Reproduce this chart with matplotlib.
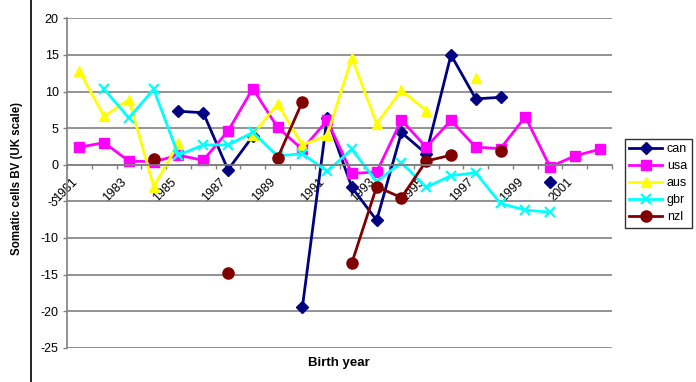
import numpy as np
import matplotlib
matplotlib.use("Agg")
import matplotlib.pyplot as plt
import matplotlib.transforms as mtransforms
from matplotlib.lines import Line2D

plt.rcParams["font.family"] = ["Liberation Sans", "DejaVu Sans"]
plt.rcParams["axes.unicode_minus"] = False

nan = np.nan

years = list(range(1981, 2003))
tick_years = [str(y) for y in range(1981, 2003, 2)]

can = [nan, nan, nan, nan, 7.3, 7.1, -0.7, 3.9, nan, -19.5, 6.4,
       -3.1, -7.6, 4.4, 1.5, 15.0, 9.0, 9.2, nan, -2.3, nan, nan]
usa = [2.4, 3.0, 0.5, 0.4, 1.3, 0.6, 4.6, 10.4, 5.1, 2.1, 6.05,
       -1.2, -1.0, 6.1, 2.4, 6.05, 2.4, 2.2, 6.55, -0.3, 1.2, 2.1]
aus = [12.8, 6.6, 8.9, -3.0, 2.9, nan, nan, 4.1, 8.3, 2.7, 4.0,
       14.6, 5.6, 10.15, 7.4, nan, 11.8, nan, nan, nan, nan, nan]
gbr = [nan, 10.3, 6.4, 10.3, 1.3, 2.7, 2.7, 4.4, 1.2, 1.5, -0.9,
       2.1, -2.3, 0.3, -3.1, -1.5, -1.1, -5.3, -6.2, -6.5, nan, nan]
nzl = [nan, nan, nan, 0.8, nan, nan, -14.8, nan, 0.9, 8.6, nan,
       -13.4, -3.0, -4.5, 0.5, 1.3, nan, 1.9, nan, nan, nan, nan]

series = [
    ("can", can, "#000080", "D", 6),
    ("usa", usa, "#FF00FF", "s", 6.5),
    ("aus", aus, "#FFFF00", "^", 7.5),
    ("gbr", gbr, "#00FFFF", "x", 7),
    ("nzl", nzl, "#800000", "o", 8),
]

fig = plt.figure(figsize=(6.96, 3.82), dpi=100)
ax = fig.add_axes([67 / 696, 34.3 / 382, 545 / 696, 329.4 / 382])

x = np.arange(len(years))
for name, vals, color, marker, ms in series:
    ax.plot(
        x,
        np.array(vals, dtype=float),
        color=color,
        marker=marker,
        markersize=ms,
        markeredgewidth=1.6 if marker == "x" else 1.0,
        markeredgecolor=color,
        linewidth=2,
        label=name,
    )

ax.set_xlim(-0.5, len(years) - 0.5)
ax.set_ylim(-25, 20)
ax.set_yticks(np.arange(-25, 21, 5))
ax.yaxis.grid(True, color="#808080", linewidth=1.2)
ax.set_axisbelow(True)

for side in ("top", "right"):
    ax.spines[side].set_visible(False)
ax.spines["left"].set_color("#808080")
ax.spines["left"].set_linewidth(1.2)
ax.spines["bottom"].set_position(("data", 0))
ax.spines["bottom"].set_color("#808080")
ax.spines["bottom"].set_linewidth(1.2)

ax.tick_params(axis="y", direction="out", length=3, width=1, color="#808080",
               labelsize=9, pad=3)

ax.set_xticks(np.arange(0, len(years), 2))
ax.set_xticklabels(tick_years, rotation=45, ha="right", va="center",
                   rotation_mode="anchor", fontsize=9)
ax.set_xticks(np.arange(-0.5, len(years), 1), minor=True)
ax.tick_params(axis="x", which="major", length=0, pad=11)
ax.tick_params(axis="x", which="minor", direction="out", length=3,
               width=1, color="#808080")
shift = mtransforms.ScaledTranslation(-4 / 100, 0, fig.dpi_scale_trans)
for lbl in ax.get_xticklabels():
    lbl.set_transform(lbl.get_transform() + shift)

fig.text(17 / 696, 1 - 178.5 / 382, "Somatic cells BV (UK scale)",
         fontsize=8.3, fontweight="bold", rotation=90,
         ha="center", va="center")
fig.text(339 / 696, 1 - 363 / 382, "Birth year", fontsize=9.5,
         fontweight="bold", ha="center", va="center")

fig.add_artist(Line2D([31 / 696, 31 / 696], [0, 1], color="black",
                      linewidth=1.2, transform=fig.transFigure))

leg = fig.legend(
    loc="upper left",
    bbox_to_anchor=(625 / 696, 1 - 139 / 382),
    frameon=True,
    fancybox=False,
    edgecolor="black",
    fontsize=9,
    handlelength=2.6,
    handletextpad=0.4,
    borderpad=0.35,
    labelspacing=0.4,
    borderaxespad=0,
)
leg.get_frame().set_linewidth(1.0)

fig.savefig("out.png", dpi=100)
